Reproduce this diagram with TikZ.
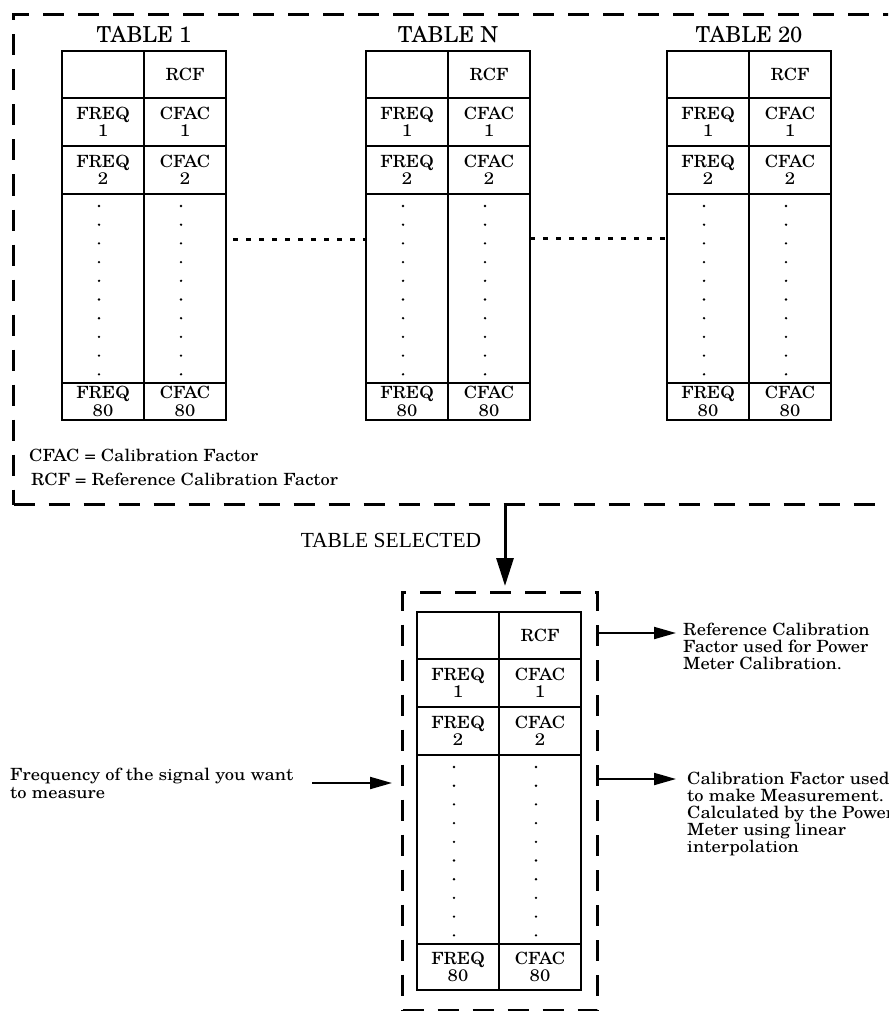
\documentclass[tikz,border=0pt]{standalone}
\usepackage{fontspec}
\setmainfont{TeX Gyre Schola}
\newfontfamily\wideschola{TeX Gyre Schola}[FakeStretch=1.1]
\newfontfamily\timesfont{Liberation Serif}
\usetikzlibrary{arrows.meta,positioning}

\newcommand{\cellfont}{\wideschola\fontsize{16.8}{17.5}\selectfont}
\newcommand{\headfont}{\fontsize{22}{24}\selectfont}
\newcommand{\notefont}{\wideschola\fontsize{16.8}{17}\selectfont}

\tikzset{
  cell/.style={draw, line width=2pt, inner sep=0pt, outer sep=0pt, minimum width=82pt, align=center, font=\cellfont},
  head/.style={inner sep=0pt, font=\headfont},
  note/.style={inner sep=0pt, align=left, font=\notefont},
  border/.style={draw, line width=3pt, dash pattern=on 21pt off 14pt, inner sep=0pt},
  dotline/.style={line width=3pt, dash pattern=on 5pt off 8pt},
  pointer/.style={line width=2pt, -{Triangle[length=22pt,width=12pt]}},
  bigpointer/.style={line width=3pt, -{Triangle[length=28pt,width=17pt]}},
}

% one calibration table: name, left, top, height of the last row
\newcommand{\calTable}[4]{%
  \node[cell, minimum height=47pt, anchor=north west] (#1-a0) at (#2,#3) {};
  \node[cell, minimum height=47pt, anchor=west] (#1-b0) at (#1-a0.east) {RCF};
  \node[cell, minimum height=48pt, anchor=north] (#1-a1) at (#1-a0.south) {FREQ\\1};
  \node[cell, minimum height=48pt, anchor=north] (#1-b1) at (#1-b0.south) {CFAC\\1};
  \node[cell, minimum height=48pt, anchor=north] (#1-a2) at (#1-a1.south) {FREQ\\2};
  \node[cell, minimum height=48pt, anchor=north] (#1-b2) at (#1-b1.south) {CFAC\\2};
  \node[cell, minimum height=189pt, anchor=north] (#1-a3) at (#1-a2.south) {};
  \node[cell, minimum height=189pt, anchor=north] (#1-b3) at (#1-b2.south) {};
  \node[cell, minimum height=#4, anchor=north] (#1-a4) at (#1-a3.south) {FREQ\\80};
  \node[cell, minimum height=#4, anchor=north] (#1-b4) at (#1-b3.south) {CFAC\\80};
  \foreach \k in {0,...,9} {
    \fill ([shift={(-4pt,{-12pt-\k*18.7pt})}]#1-a3.north) circle (1.3pt);
    \fill ([shift={(-4pt,{-12pt-\k*18.7pt})}]#1-b3.north) circle (1.3pt);
  }%
}

\begin{document}
\begin{tikzpicture}[x=1pt, y=-1pt]
    \useasboundingbox (0,0) rectangle (888,1011);
    \clip (0,0) rectangle (888,1011);

    % Stored tables
    \node[border, minimum width=900pt, minimum height=490pt, anchor=north west] (library) at (12,13) {};
    \calTable{t1}{62}{51}{37pt}
    \calTable{tN}{366}{51}{37pt}
    \calTable{t20}{667}{51}{37pt}
    \node[head, above=8pt of t1-a0.north east] (t1-title) {TABLE 1};
    \node[head, above=8pt of tN-a0.north east] (tN-title) {TABLE N};
    \node[head, above=8pt of t20-a0.north east] (t20-title) {TABLE 20};
    \draw[dotline] ([shift={(7pt,-45pt)}]t1-b3.north east) -- ([yshift=-45pt]tN-a3.north west);
    \draw[dotline] ([yshift=-44pt]tN-b3.north east) -- ([yshift=-44pt]t20-a3.north west);

    % Legend
    \node[note, anchor=west] (cfac-key) at (29,455) {CFAC = Calibration Factor};
    \node[note, anchor=west] (rcf-key) at (31,479) {RCF = Reference Calibration Factor};

    % Selected table
    \node[font=\timesfont\fontsize{21.5}{21.5}\selectfont, inner sep=0pt] (selected) at (391,540) {TABLE SELECTED};
    \node[border, minimum width=195pt, minimum height=418pt, anchor=north west] (selbox) at (401,591) {};
    \calTable{s}{417}{612}{46pt}
    \coordinate (drop) at (505,586);
    \draw[bigpointer] (library.south -| drop) -- (drop);

    % Notes
    \node[note, anchor=north west] (freq-note) at (10,768) {Frequency of the signal you want\\[1pt]to measure};
    \node[note, anchor=north west] (ref-note) at (683,623) {Reference Calibration\\Factor used for Power\\Meter Calibration.};
    \node[note, anchor=north west] (calc-note) at (687,772) {Calibration Factor used\\to make Measurement.\\Calculated by the Power\\Meter using linear\\interpolation};
    \coordinate (freq-tail) at (312,783);
    \coordinate (ref-tip) at (676,633);
    \coordinate (calc-tip) at (676,779);
    \draw[pointer] (freq-tail) -- ([xshift=-9pt]selbox.west |- freq-tail);
    \draw[pointer] (selbox.east |- ref-tip) -- (ref-tip);
    \draw[pointer] (selbox.east |- calc-tip) -- (calc-tip);
\end{tikzpicture}
\end{document}
